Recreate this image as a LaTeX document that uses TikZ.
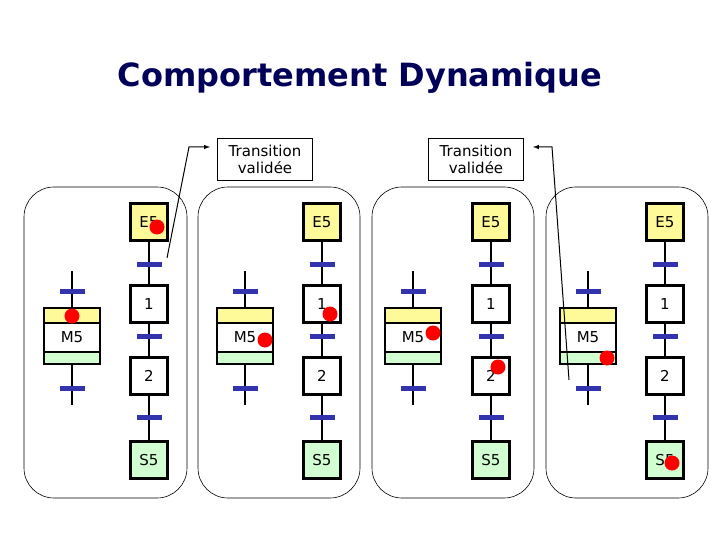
\documentclass[tikz,border=0pt]{standalone}
\usepackage{fontspec}
\setmainfont{DejaVu Sans}
\begin{document}
\begin{tikzpicture}[x=1pt,y=-1pt,
  st/.style={draw,line width=2.2pt,minimum width=37pt,minimum height=37pt,inner sep=0pt,font=\fontsize{15}{15}\selectfont},
  tr/.style={draw=none,fill=blue!60!black!80,minimum width=25pt,minimum height=5pt,inner sep=0pt},
  dot/.style={circle,fill=red,minimum size=15pt,inner sep=0pt},
  link/.style={line width=2.2pt},
  panel/.style={draw,rounded corners=30pt,line width=0.6pt},
  call/.style={draw,line width=0.6pt,align=center,font=\fontsize{15}{17}\selectfont,minimum width=95pt,minimum height=42pt,inner sep=1pt}]
\useasboundingbox (0,0) rectangle (720,540);
\node[font=\bfseries\fontsize{32}{34}\selectfont,text=blue!35!black] (title) at (360,78) {Comportement Dynamique};
\foreach \i/\a/\b/\l/\r in {1/149/72/24/187,2/322/245/198/360,3/491/413/372/534,4/665/588/546/708}{
  \draw[panel] (\l,187) rectangle (\r,498);
  \draw[link] (\a,222) -- (\a,460);
  \node[st,fill=yellow!40] (E\i) at (\a,222) {E5};
  \node[st,fill=white] (U\i) at (\a,304) {1};
  \node[st,fill=white] (D\i) at (\a,376) {2};
  \node[st,fill=green!18] (S\i) at (\a,460) {S5};
  \node[tr] (t1\i) at (\a,264) {};
  \node[tr] (t2\i) at (\a,336) {};
  \node[tr] (t3\i) at (\a,417) {};
  \coordinate (mt\i) at (\b,271);
  \coordinate (mb\i) at (\b,405);
  \draw[link] (mt\i) -- (mb\i);
  \node[tr] (m1\i) at (\b,291) {};
  \node[tr] (m2\i) at (\b,388) {};
  \filldraw[line width=2.2pt,fill=yellow!40] (\b-28,308) rectangle (\b+28,323);
  \filldraw[line width=2.2pt,fill=white] (\b-28,323) rectangle (\b+28,352);
  \filldraw[line width=2.2pt,fill=green!18] (\b-28,352) rectangle (\b+28,364);
  \node[font=\fontsize{15}{15}\selectfont] (M\i) at (\b,337) {M5};
}
\node[dot] (d1) at (157,227) {};
\node[dot] (d2) at (72,316) {};
\node[dot] (d3) at (330,314) {};
\node[dot] (d4) at (265,340) {};
\node[dot] (d5) at (433,333) {};
\node[dot] (d6) at (498,367) {};
\node[dot] (d7) at (607,358) {};
\node[dot] (d8) at (672,463) {};
\node[call] (c1) at (265,159) {Transition\\validée};
\node[call] (c2) at (476,159) {Transition\\validée};
\coordinate (p1) at (167,258);
\coordinate (p2) at (569,380);
\coordinate (q1) at (210,147);
\coordinate (q2) at (533,147);
\draw[line width=1pt,-latex] (p1) -- (189,147) -- (q1);
\draw[line width=1pt,-latex] (p2) -- (552,147) -- (q2);
\end{tikzpicture}
\end{document}
